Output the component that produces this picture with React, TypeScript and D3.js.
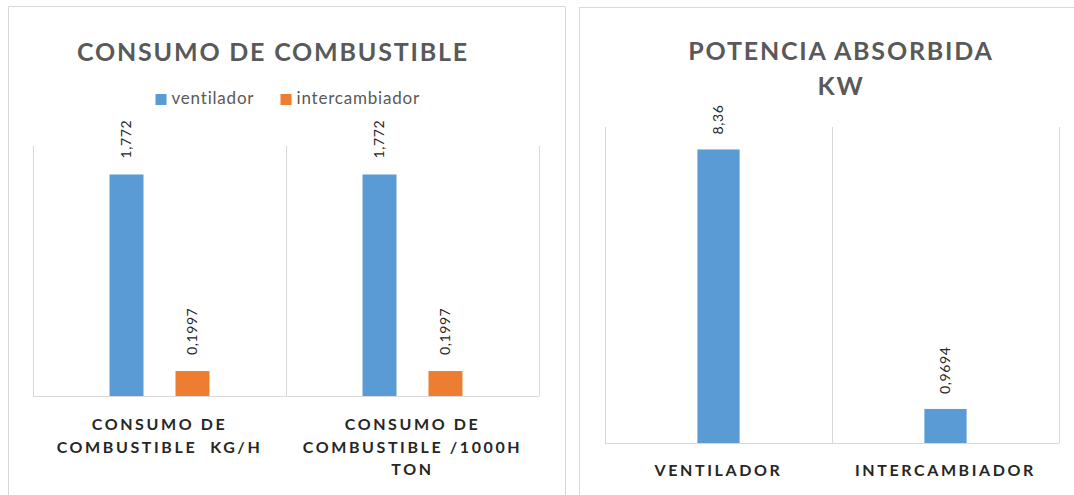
import React, { useEffect, useRef } from "react";
import * as d3 from "d3";

// data - left chart (consumo de combustible)
const consumoCats: string[][] = [
  ["CONSUMO DE", "COMBUSTIBLE  KG/H"],
  ["CONSUMO DE", "COMBUSTIBLE /1000H", "TON"],
];
const seriesNames = ["ventilador", "intercambiador"];
const ventilador = [1.772, 1.772];
const intercambiador = [0.1997, 0.1997];

// data - right chart (potencia absorbida)
const potenciaCats = ["VENTILADOR", "INTERCAMBIADOR"];
const potencia = [8.36, 0.9694];

const BLUE = "#5B9BD5";
const ORANGE = "#ED7D31";
const GRID = "#D9D9D9";
const FONT = "Lato, 'DejaVu Sans', sans-serif";

const fmt = (v: number) => String(v).replace(".", ",");

export default function App() {
  const ref = useRef<SVGSVGElement>(null);

  useEffect(() => {
    const svg = d3.select(ref.current);
    svg.selectAll("*").remove();

    // panel frames
    svg.append("path")
      .attr("d", "M8.5,495 V6.5 H565.5 V495")
      .attr("fill", "none").attr("stroke", GRID);
    svg.append("path")
      .attr("d", "M579.5,495 V7.5 H1080")
      .attr("fill", "none").attr("stroke", GRID);

    // ---------- left chart ----------
    var g1 = svg.append("g");
    var x1 = d3.scaleBand().domain(consumoCats.map((d, i) => String(i))).range([33, 539]);
    var sub = d3.scaleBand().domain(seriesNames)
      .range([0, x1.bandwidth()]).paddingInner(0.485).paddingOuter(1.16);
    var y1 = d3.scaleLinear().domain([0, 2]).range([396, 146]);

    // category gridlines + axis line
    x1.domain().concat(["end"]).forEach((c, i) => {
      var xx = i < consumoCats.length ? x1(c)! : x1.range()[1];
      g1.append("line").attr("x1", Math.round(xx) + 0.5).attr("x2", Math.round(xx) + 0.5)
        .attr("y1", y1(2)).attr("y2", y1(0)).attr("stroke", GRID);
    });
    g1.append("line").attr("x1", 33).attr("x2", 539).attr("y1", y1(0) + 0.5).attr("y2", y1(0) + 0.5)
      .attr("stroke", GRID);

    const rows = consumoCats.map((c, i) => ({
      cat: String(i),
      vals: [
        { s: "ventilador", v: ventilador[i], c: BLUE },
        { s: "intercambiador", v: intercambiador[i], c: ORANGE },
      ],
    }));

    rows.forEach((r) => {
      r.vals.forEach((d) => {
        var bx = x1(r.cat)! + sub(d.s)!;
        g1.append("rect")
          .attr("x", bx).attr("width", sub.bandwidth())
          .attr("y", y1(d.v)).attr("height", y1(0) - y1(d.v))
          .attr("fill", d.c);
        g1.append("text")
          .attr("transform", `translate(${bx + sub.bandwidth() / 2},${y1(d.v) - 16}) rotate(-90)`)
          .attr("dy", "0.35em")
          .attr("font-family", FONT).attr("font-size", 14).attr("letter-spacing", 0.6)
          .attr("fill", "#262626")
          .text(fmt(d.v));
      });
    });

    // category labels
    consumoCats.forEach((lines, i) => {
      var cx = x1(String(i))! + x1.bandwidth() / 2;
      lines.forEach((ln, j) => {
        g1.append("text")
          .attr("x", cx).attr("y", 430 + j * 22.5)
          .attr("text-anchor", "middle")
          .attr("font-family", FONT).attr("font-weight", "bold").attr("font-size", 16)
          .attr("letter-spacing", 2.6).attr("fill", "#262626")
          .style("white-space", "pre")
          .text(ln);
      });
    });

    // title
    g1.append("text").attr("x", 273).attr("y", 61).attr("text-anchor", "middle")
      .attr("font-family", FONT).attr("font-weight", "bold").attr("font-size", 25)
      .attr("letter-spacing", 1.8).attr("fill", "#595959")
      .text("CONSUMO DE COMBUSTIBLE");

    // legend
    var legX = [155.5, 280.5];
    seriesNames.forEach((s, i) => {
      g1.append("rect").attr("x", legX[i]).attr("y", 94).attr("width", 11).attr("height", 11)
        .attr("fill", i === 0 ? BLUE : ORANGE);
      g1.append("text").attr("x", legX[i] + 16).attr("y", 104)
        .attr("font-family", FONT).attr("font-size", 17).attr("letter-spacing", 0.8)
        .attr("fill", "#595959").text(s);
    });

    // ---------- right chart ----------
    var g2 = svg.append("g");
    var x2 = d3.scaleBand().domain(potenciaCats).range([605, 1059]);
    var y2 = d3.scaleLinear().domain([0, 9]).range([443, 127]);
    var barW = x2.bandwidth() * 0.186;

    potenciaCats.concat(["end"]).forEach((c, i) => {
      var xx = i < potenciaCats.length ? x2(c)! : x2.range()[1];
      g2.append("line").attr("x1", Math.round(xx) + 0.5).attr("x2", Math.round(xx) + 0.5)
        .attr("y1", y2(9)).attr("y2", y2(0)).attr("stroke", GRID);
    });
    g2.append("line").attr("x1", 605).attr("x2", 1059).attr("y1", y2(0) + 0.5).attr("y2", y2(0) + 0.5)
      .attr("stroke", GRID);

    potenciaCats.forEach((c, i) => {
      var cx = x2(c)! + x2.bandwidth() / 2;
      g2.append("rect")
        .attr("x", cx - barW / 2).attr("width", barW)
        .attr("y", y2(potencia[i])).attr("height", y2(0) - y2(potencia[i]))
        .attr("fill", BLUE);
      g2.append("text")
        .attr("transform", `translate(${cx},${y2(potencia[i]) - 15}) rotate(-90)`)
        .attr("dy", "0.35em")
        .attr("font-family", FONT).attr("font-size", 14).attr("letter-spacing", 0.6)
        .attr("fill", "#262626")
        .text(fmt(potencia[i]));
      g2.append("text")
        .attr("x", cx).attr("y", 476).attr("text-anchor", "middle")
        .attr("font-family", FONT).attr("font-weight", "bold").attr("font-size", 16)
        .attr("letter-spacing", 2.6).attr("fill", "#262626")
        .text(c);
    });

    ["POTENCIA ABSORBIDA", "KW"].forEach((t, j) => {
      g2.append("text").attr("x", 841).attr("y", 60 + j * 35).attr("text-anchor", "middle")
        .attr("font-family", FONT).attr("font-weight", "bold").attr("font-size", 25)
        .attr("letter-spacing", 1.8).attr("fill", "#595959")
        .text(t);
    });
  }, []);

  return (
    <svg ref={ref} width={1074} height={495}
      style={{ position: "absolute", left: 0, top: 0, background: "#fff" }} />
  );
}
